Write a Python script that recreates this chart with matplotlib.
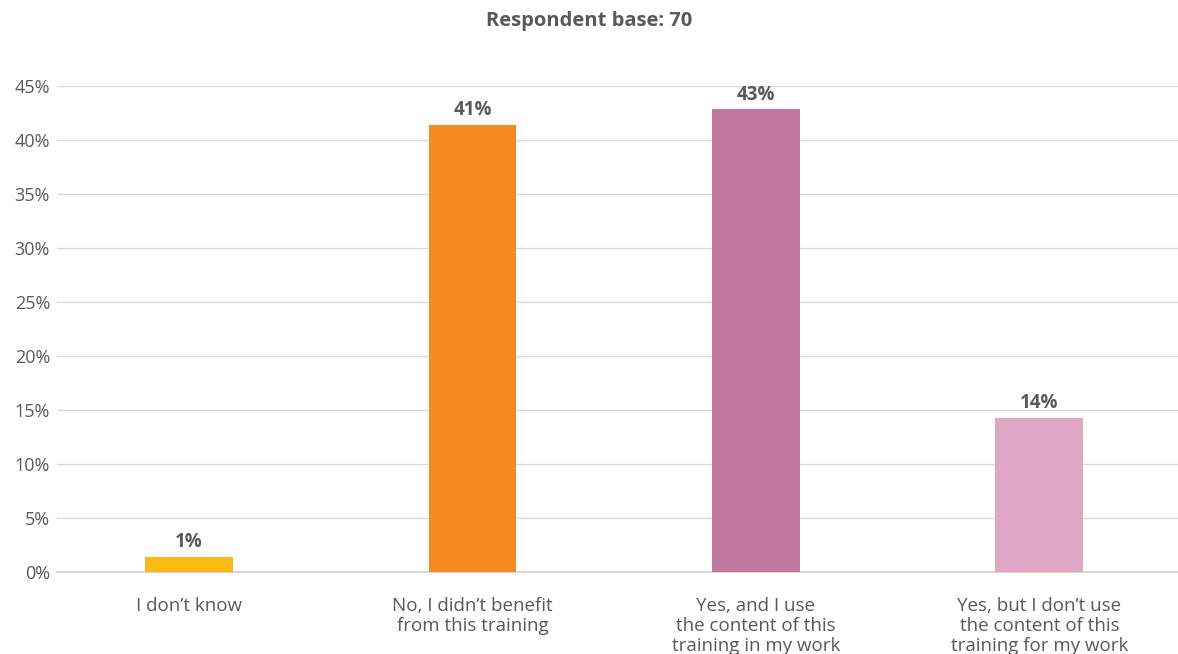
import matplotlib.pyplot as plt
from matplotlib.ticker import PercentFormatter

plt.rcParams["font.family"] = ["Open Sans", "DejaVu Sans"]

# ====== data ======
categories = [
    "I don\u2019t know",
    "No, I didn\u2019t benefit\nfrom this training",
    "Yes, and I use\nthe content of this\ntraining in my work",
    "Yes, but I don\u2019t use\nthe content of this\ntraining for my work",
]
values = [1.43, 41.43, 42.86, 14.29]
labels = ["1%", "41%", "43%", "14%"]
colors = ["#FDB913", "#F58A1F", "#BF789D", "#DFA7C4"]
yticks = [0, 5, 10, 15, 20, 25, 30, 35, 40, 45]

TEXT = "#595959"

fig = plt.figure(figsize=(11.78, 6.54), dpi=100)
ax = fig.add_axes([0.0484, 0.1254, 0.9516, 0.7431])

x = range(len(categories))
bars = ax.bar(x, values, width=0.31, color=colors, zorder=3)

for b, lab in zip(bars, labels):
    ax.annotate(lab, (b.get_x() + b.get_width() / 2, b.get_height()),
                xytext=(0, 3), textcoords="offset points",
                ha="center", va="bottom", fontsize=13.5, fontweight="bold",
                color=TEXT)

ax.set_ylim(0, 45)
ax.set_yticks(yticks)
ax.yaxis.set_major_formatter(PercentFormatter(decimals=0))
ax.set_xlim(-0.466, 3.489)
ax.set_xticks(list(x))
ax.set_xticklabels(categories, fontsize=13.5, color=TEXT, linespacing=1.15)
ax.tick_params(axis="y", labelsize=13, labelcolor=TEXT, length=0, pad=5)
ax.tick_params(axis="x", length=0, pad=18)

ax.grid(axis="y", color="#D9D9D9", linewidth=1, zorder=0)
for s in ["top", "right", "left"]:
    ax.spines[s].set_visible(False)
ax.spines["bottom"].set_color("#D9D9D9")
ax.spines["bottom"].set_linewidth(1.5)

fig.text(0.5, 0.968, "Respondent base: 70", ha="center", va="center",
         fontsize=14.5, fontweight="bold", color=TEXT)

plt.savefig("out.png", dpi=100)
